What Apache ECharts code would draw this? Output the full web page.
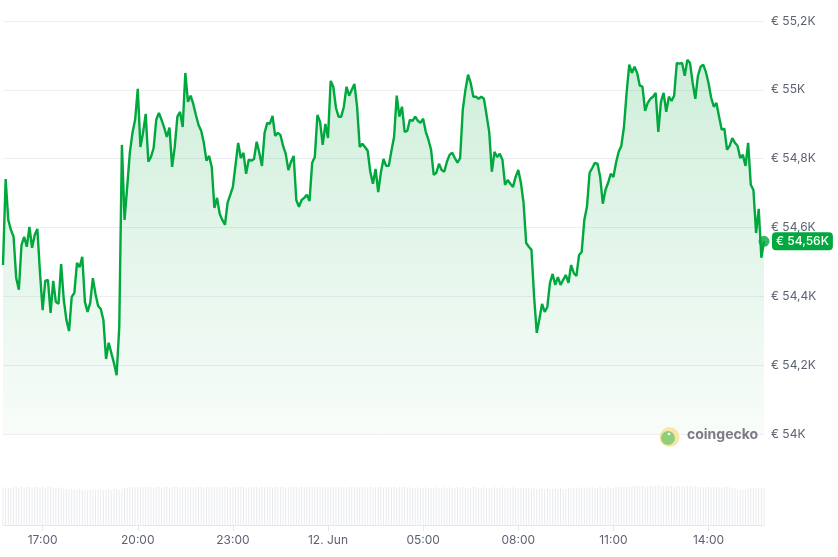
<!DOCTYPE html>
<html><head><meta charset="utf-8">
<script src="https://cdn.jsdelivr.net/npm/echarts@6/dist/echarts.min.js"></script>
<style>html,body{margin:0;padding:0;background:#fff}#c{width:838px;height:557px}</style>
</head><body><div id="c"></div>
<script>
// ---- data ----
const startTime = '2024-06-11T15:45:00';
const stepMinutes = 5;
const prices = [
54491,54741,54622,54593,54573,54453,54419,54549,54573,54544,54602,54541,54578,
54596,54468,54360,54445,54448,54352,54445,54384,54378,54494,54390,54331,
54299,54398,54410,54497,54485,54515,54384,54355,54381,54453,54407,54372,
54363,54331,54218,54265,54235,54206,54171,54311,54840,54622,54718,54817,
54875,54913,55003,54834,54875,54930,54791,54805,54831,54913,54933,54913,
54890,54863,54890,54776,54834,54922,54936,54892,55049,54965,54983,54959,
54927,54898,54881,54846,54794,54808,54776,54657,54686,54640,54622,54608,
54672,54695,54718,54782,54846,54802,54817,54756,54797,54794,54799,54849,
54817,54779,54875,54904,54901,54924,54866,54875,54869,54837,54814,54767,
54791,54808,54680,54660,54680,54686,54695,54677,54788,54805,54927,54907,
54840,54901,54860,55026,55009,54948,54922,54922,54951,55009,54983,55000,
55017,54951,54834,54843,54834,54823,54762,54727,54770,54703,54759,54799,
54779,54779,54823,54863,54983,54922,54951,54878,54881,54913,54910,54922,
54910,54904,54916,54878,54855,54826,54753,54759,54785,54767,54762,54791,
54811,54817,54802,54788,54802,54942,55000,55044,55020,54980,54980,54974,
54980,54974,54927,54878,54762,54820,54805,54814,54797,54724,54738,54727,
54718,54747,54767,54730,54672,54555,54544,54535,54398,54294,54334,54378,
54355,54369,54439,54465,54433,54456,54433,54448,54462,54439,54491,54468,
54459,54520,54529,54622,54660,54759,54773,54788,54785,54747,54669,54709,
54730,54756,54747,54788,54820,54837,54892,54991,55073,55049,55067,55049,
55012,55009,54939,54962,54974,54980,54991,54878,54965,54991,54936,54980,
54968,54983,55078,55076,55078,55041,55087,55078,55020,54974,55041,55067,
55073,55052,55020,54977,54951,54962,54922,54884,54887,54826,54837,54860,
54846,54837,54802,54811,54779,54846,54724,54709,54584,54654,54512,54560
];
const volumes = [
37,38,37,37,38,38,37,38,37,38,38,37,38,
38,37,38,37,38,38,37,37,38,37,36,36,
35,36,35,35,36,35,35,34,35,36,35,35,
36,35,35,36,35,36,36,35,36,37,37,38,
38,37,38,38,37,38,38,38,37,38,38,37,
38,38,37,38,38,38,37,38,38,38,38,37,
38,38,38,37,38,38,38,38,37,38,38,38,
38,37,38,38,38,38,38,37,38,38,38,38,
37,38,38,38,38,37,38,38,38,38,37,38,
38,38,38,37,38,38,38,38,39,38,38,38,
37,38,38,38,38,37,38,38,38,37,38,38,
38,38,37,38,38,38,38,37,38,38,38,37,
38,38,38,38,37,38,38,38,37,38,37,37,
38,37,37,38,37,37,37,38,37,37,38,37,
38,37,37,38,37,38,37,37,37,38,38,37,
37,38,37,37,37,38,37,37,38,37,37,37,
38,37,37,37,37,37,37,36,37,36,36,37,
36,37,36,36,37,36,37,36,36,37,37,37,
37,38,37,37,38,37,38,37,37,38,37,37,
38,37,37,38,38,38,38,38,39,38,39,39,
39,39,38,39,39,39,39,40,39,39,39,39,
39,38,39,39,39,38,39,39,38,39,38,38,
38,38,38,37,38,38,38,37,38,38,38,37,
37,35,35,36,35,36,37,37,37,37,37,37
];
const tickTimes = ['2024-06-11T17:00:00','2024-06-11T20:00:00','2024-06-11T23:00:00','2024-06-12T02:00:00',
                   '2024-06-12T05:00:00','2024-06-12T08:00:00','2024-06-12T11:00:00','2024-06-12T14:00:00'];
const tickLabels = ['17:00','20:00','23:00','12. Jun','05:00','08:00','11:00','14:00'];
const priceMin = 54000, priceMax = 55200, priceStep = 200;
const volumeMax = 40;

// ---- build ----
const t0 = new Date(startTime).getTime();
const times = prices.map((_, i) => t0 + i * stepMinutes * 60000);
const tickMs = tickTimes.map(s => new Date(s).getTime());
const lastIdx = prices.length - 1;
const fmtK = v => '€ ' + String(+(v / 1000).toFixed(2)).replace('.', ',') + 'K';
const GREEN = '#00a83e';
const FONT = 'Inter';

const chart = echarts.init(document.getElementById('c'), null, {renderer: 'canvas'});
chart.setOption({
  animation: false,
  textStyle: {fontFamily: FONT},
  grid: [
    {left: 3, right: 74, top: 21, height: 413},
    {left: 3, right: 74, top: 485, height: 40}
  ],
  xAxis: [
    {type: 'value', gridIndex: 0, min: times[0], max: times[lastIdx], show: false, splitLine: {show: false}},
    {type: 'value', gridIndex: 1, min: times[0], max: times[lastIdx],
     axisLine: {show: true, lineStyle: {color: '#e6e8eb', width: 1}},
     axisTick: {show: true, length: 6, lineStyle: {color: '#e6e8eb'}, customValues: tickMs},
     axisLabel: {customValues: tickMs, color: '#5c6370', fontSize: 12, fontFamily: FONT, margin: 9,
       formatter: v => { const k = tickMs.indexOf(v); return k >= 0 ? tickLabels[k] : ''; }},
     splitLine: {show: false}}
  ],
  yAxis: [
    {type: 'value', gridIndex: 0, position: 'right', min: priceMin, max: priceMax, interval: priceStep,
     axisLine: {show: false}, axisTick: {show: false},
     axisLabel: {color: '#5c6370', fontSize: 12, fontFamily: FONT, margin: 7, formatter: fmtK},
     splitLine: {lineStyle: {color: '#eceef1', width: 1}}},
    {type: 'value', gridIndex: 1, min: 0, max: volumeMax, show: false, splitLine: {show: false}}
  ],
  series: [
    {type: 'bar', xAxisIndex: 1, yAxisIndex: 1, barWidth: 1,
     itemStyle: {color: '#e9ebef'}, silent: true,
     data: times.map((t, i) => [t, volumes[i]])},
    {type: 'line', xAxisIndex: 0, yAxisIndex: 0, showSymbol: false, smooth: false,
     lineStyle: {color: GREEN, width: 2.4},
     areaStyle: {color: new echarts.graphic.LinearGradient(0, 0, 0, 1, [
       {offset: 0, color: 'rgba(0,168,62,0.27)'},
       {offset: 1, color: 'rgba(0,168,62,0.04)'}])},
     endLabel: {show: true, distance: 8, formatter: p => fmtK(p.value[1]),
       backgroundColor: GREEN, color: '#fff', fontSize: 12, fontWeight: 500, fontFamily: FONT,
       padding: [3, 4, 3, 4], borderRadius: 4},
     data: times.map((t, i) => [t, prices[i]]), z: 3},
    {type: 'scatter', xAxisIndex: 0, yAxisIndex: 0, symbolSize: 11, z: 4,
     itemStyle: {color: GREEN},
     data: [[times[lastIdx], prices[lastIdx]]]}
  ],
  graphic: [
    {type: 'circle', shape: {cx: 669.5, cy: 437, r: 10}, style: {fill: '#f9e6a6'}, z: 10},
    {type: 'circle', shape: {cx: 668, cy: 438, r: 7}, style: {fill: '#8fcf7b'}, z: 11},
    {type: 'circle', shape: {cx: 669, cy: 434, r: 1.3}, style: {fill: '#ffffff'}, z: 12},
    {type: 'text', left: 687, top: 428, z: 10,
     style: {text: 'coingecko', fill: '#7e7b87', font: 'bold 14px Inter'}}
  ]
});
</script></body></html>
